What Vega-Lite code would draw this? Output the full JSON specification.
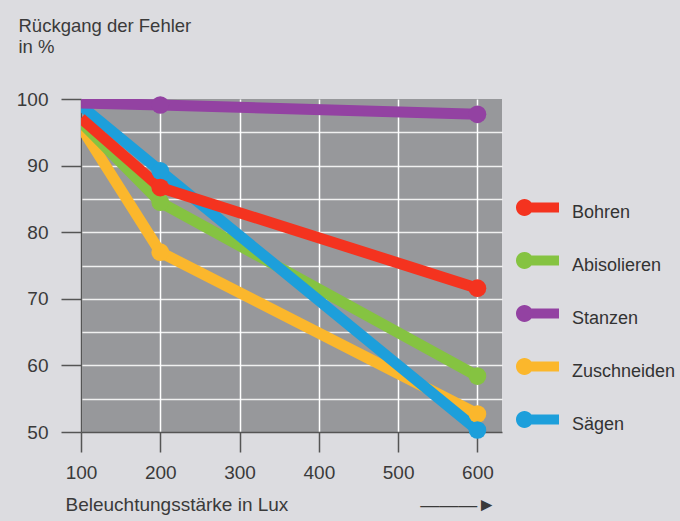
{
  "$schema": "https://vega.github.io/schema/vega-lite/v6.json",
  "autosize": "none",
  "width": 421,
  "height": 333,
  "padding": {"left": 81, "top": 99, "right": 178, "bottom": 89},
  "background": "#dcdce0",
  "config": {
    "view": {"fill": "#97989b", "stroke": null},
    "font": "Liberation Sans",
    "axis": {"labelFont": "Liberation Sans", "titleFont": "Liberation Sans", "labelColor": "#3a3a3a", "titleColor": "#3a3a3a", "titleFontWeight": "normal", "domainColor": "#555555", "domainWidth": 1.5, "tickColor": "#555555", "tickWidth": 1.5, "gridColor": "#ffffff", "gridWidth": 1.5}
  },
  "data": {"values": [
    {"lux": 100, "pct": 95.8, "task": "Zuschneiden"},
    {"lux": 200, "pct": 77.0, "task": "Zuschneiden"},
    {"lux": 600, "pct": 52.7, "task": "Zuschneiden"},
    {"lux": 100, "pct": 96.5, "task": "Abisolieren"},
    {"lux": 200, "pct": 84.5, "task": "Abisolieren"},
    {"lux": 600, "pct": 58.4, "task": "Abisolieren"},
    {"lux": 100, "pct": 99.0, "task": "Sägen"},
    {"lux": 200, "pct": 89.2, "task": "Sägen"},
    {"lux": 600, "pct": 50.3, "task": "Sägen"},
    {"lux": 100, "pct": 97.1, "task": "Bohren"},
    {"lux": 200, "pct": 86.7, "task": "Bohren"},
    {"lux": 600, "pct": 71.6, "task": "Bohren"},
    {"lux": 100, "pct": 99.4, "task": "Stanzen"},
    {"lux": 200, "pct": 99.1, "task": "Stanzen"},
    {"lux": 600, "pct": 97.7, "task": "Stanzen"}
  ]},
  "encoding": {
    "x": {"field": "lux", "type": "quantitative",
      "scale": {"domain": [100, 631], "nice": false, "zero": false},
      "axis": {"values": [100, 200, 300, 400, 500, 600], "tickSize": 20, "labelPadding": 11, "labelFontSize": 19, "labelFlush": false,
        "title": "Beleuchtungsstärke in Lux\u00a0\u00a0\u00a0\u00a0\u00a0\u00a0\u00a0\u00a0\u00a0\u00a0\u00a0\u00a0\u00a0\u00a0\u00a0\u00a0\u00a0\u00a0\u00a0\u00a0\u00a0\u00a0\u00a0\u00a0\u00a0———►",
        "titleFontSize": 19, "titleX": -16, "titleY": 78, "titleAlign": "left", "titleBaseline": "alphabetic", "titleAnchor": "start"}},
    "y": {"field": "pct", "type": "quantitative",
      "scale": {"domain": [50, 100], "nice": false, "zero": false},
      "axis": {"values": [50, 55, 60, 65, 70, 75, 80, 85, 90, 95, 100], "tickSize": 20, "labelPadding": 13, "labelFontSize": 19,
        "labelExpr": "datum.value % 10 == 0 ? datum.label : ''",
        "tickOpacity": {"condition": {"test": "datum.value % 10 != 0", "value": 0}, "value": 1},
        "gridOpacity": {"condition": {"test": "datum.value == 50 || datum.value == 100", "value": 0}, "value": 0.85},
        "title": ["Rückgang der Fehler", "in %"], "titleFontSize": 18.5, "titleAngle": 0, "titleX": -63, "titleY": -68,
        "titleAlign": "left", "titleBaseline": "alphabetic", "titleLineHeight": 21}},
    "color": {"field": "task", "type": "nominal",
      "scale": {"domain": ["Bohren", "Abisolieren", "Stanzen", "Zuschneiden", "Sägen"],
        "range": ["#f4331f", "#85c341", "#9342a2", "#fbb72c", "#1d9fdb"]},
      "legend": {"title": null, "orient": "none", "legendX": 435, "legendY": 87, "padding": 0,
        "symbolType": "M-1,0 A0.395,0.395 0 1,1 -0.21,0 A0.395,0.395 0 1,1 -1,0 Z M-0.6,-0.23 L1,-0.23 L1,0.23 L-0.6,0.23 Z",
        "symbolSize": 1849, "symbolStrokeWidth": 0, "symbolOpacity": 1,
        "labelFontSize": 18, "labelColor": "#333333", "labelFont": "Liberation Sans", "labelOffset": 13, "rowPadding": 17,
        "encode": {"symbols": {"update": {"fill": {"scale": "color", "field": "value"}, "strokeWidth": {"value": 0}}},
                   "labels": {"update": {"dy": {"value": 5}}}}}
    }
  },
  "layer": [
    {"mark": {"type": "line", "strokeWidth": 11, "clip": true}},
    {"transform": [{"filter": "datum.lux != 100"}],
     "mark": {"type": "point", "filled": true, "size": 314, "opacity": 1}}
  ]
}
